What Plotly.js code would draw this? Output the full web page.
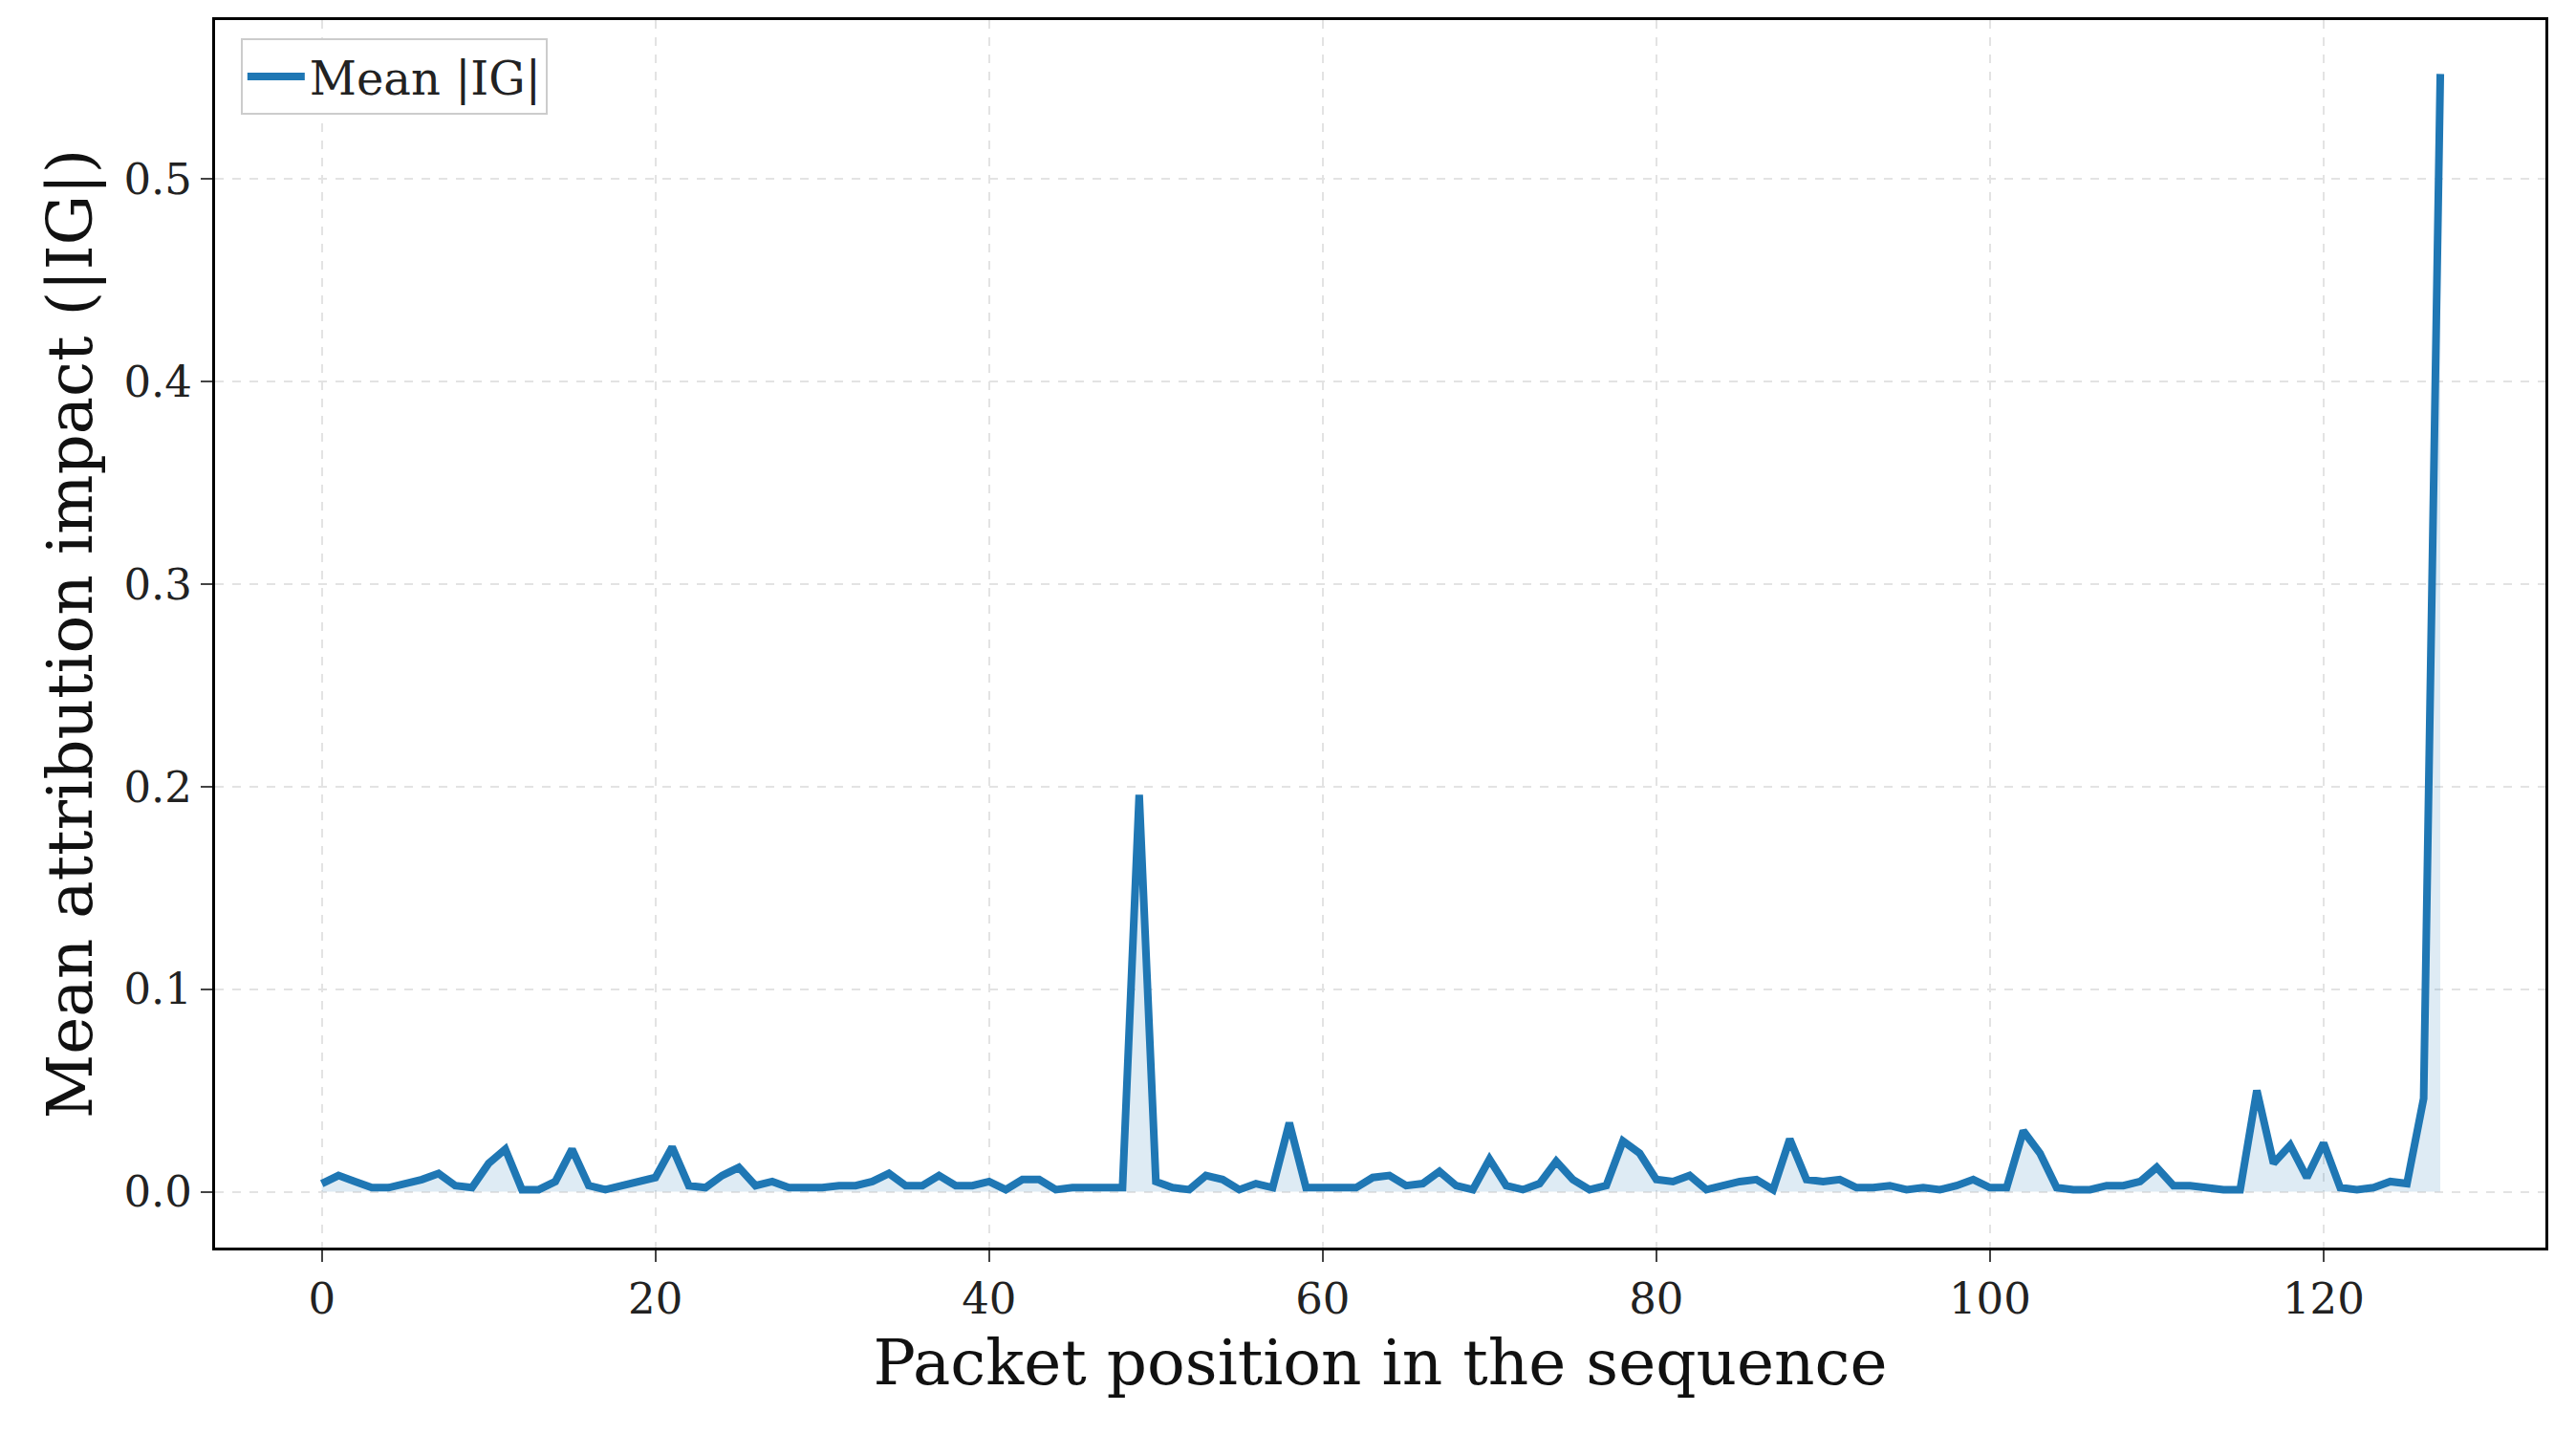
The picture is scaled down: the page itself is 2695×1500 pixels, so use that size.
<!DOCTYPE html>
<html><head><meta charset="utf-8">
<script src="https://cdn.plot.ly/plotly-3.0.1.min.js"></script>
<style>body{margin:0;background:#fff}#c{width:2695px;height:1500px}</style>
</head><body><div id="c"></div>
<script>
const positions = Array.from({length:128},(_, i)=>i);
const meanIG = [0.004,0.008,0.005,0.002,0.002,0.004,0.006,0.009,0.003,0.002,
0.014,0.021,0.001,0.001,0.005,0.021,0.003,0.001,0.003,0.005,
0.007,0.022,0.003,0.002,0.008,0.012,0.003,0.005,0.002,0.002,
0.002,0.003,0.003,0.005,0.009,0.003,0.003,0.008,0.003,0.003,
0.005,0.001,0.006,0.006,0.001,0.002,0.002,0.002,0.002,0.196,
0.005,0.002,0.001,0.008,0.006,0.001,0.004,0.002,0.034,0.002,
0.002,0.002,0.002,0.007,0.008,0.003,0.004,0.010,0.003,0.001,
0.016,0.003,0.001,0.004,0.015,0.006,0.001,0.003,0.025,0.019,
0.006,0.005,0.008,0.001,0.003,0.005,0.006,0.001,0.026,0.006,
0.005,0.006,0.002,0.002,0.003,0.001,0.002,0.001,0.003,0.006,
0.002,0.002,0.030,0.019,0.002,0.001,0.001,0.003,0.003,0.005,
0.012,0.003,0.003,0.002,0.001,0.001,0.050,0.014,0.023,0.007,
0.024,0.002,0.001,0.002,0.005,0.004,0.046,0.552];
const F = 'DejaVu Serif, serif';
const grid = {showgrid:true, gridcolor:'#e3e3e3', griddash:'dash', gridwidth:2, zeroline:false,
  showline:true, linecolor:'#000', linewidth:3, mirror:true, ticks:'outside', ticklen:12, tickwidth:2,
  tickfont:{family:F,size:45,color:'#222'}};
Plotly.newPlot('c',[
 {x:positions,y:meanIG,type:'scatter',mode:'none',fill:'tozeroy',fillcolor:'rgba(31,119,180,0.15)',showlegend:false,hoverinfo:'skip'},
 {x:positions,y:meanIG,type:'scatter',mode:'lines',name:'Mean |IG|',line:{color:'#1f77b4',width:8}}
],{
 width:2695,height:1500,paper_bgcolor:'#fff',plot_bgcolor:'#fff',
 margin:{l:225,r:32,t:21,b:195},
 xaxis:Object.assign({},grid,{range:[-6.4,133.3],tickvals:[0,20,40,60,80,100,120],
   title:{text:'Packet position in the sequence',font:{family:F,size:66,color:'#111'},standoff:18}}),
 yaxis:Object.assign({},grid,{range:[-0.0276,0.5786],tickvals:[0,0.1,0.2,0.3,0.4,0.5],tickformat:'.1f',
   title:{text:'Mean attribution impact (|IG|)',font:{family:F,size:66,color:'#111'},standoff:12}}),
 legend:{x:0.011,y:0.985,xanchor:'left',yanchor:'top',bgcolor:'#fff',bordercolor:'#ccc',borderwidth:2,
   itemwidth:60,font:{family:F,size:48,color:'#222'}},
 showlegend:true
},{staticPlot:true});
</script></body></html>
